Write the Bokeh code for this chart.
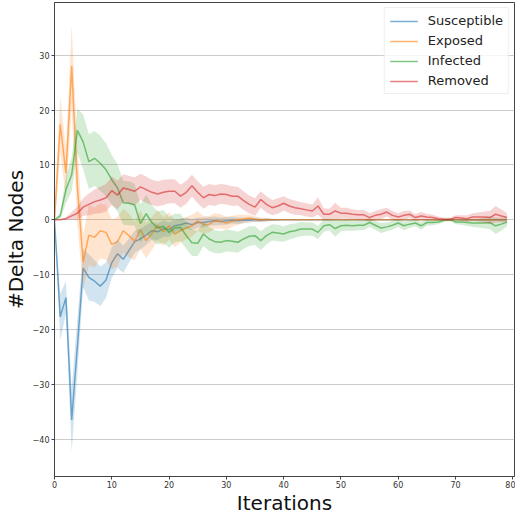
from bokeh.plotting import figure
from bokeh.models import ColumnDataSource, Range1d, Legend, LegendItem, FixedTicker
from bokeh.embed import file_html
from bokeh.resources import INLINE

iterations = list(range(80))

susceptible = [0, -17.7, -14.2, -36.5, -23.0, -8.8, -10.5, -11.2, -12.1, -11.0,
               -7.8, -6.2, -7.2, -5.6, -4.0, -3.5, -2.8, -2.0, -2.2, -1.6,
               -1.8, -1.1, -0.9, -0.6, -0.9, -0.5, -0.5, -0.3, -0.2, -0.3,
               -0.2, -0.1, -0.2, -0.1, -0.1, 0, -0.1, 0, 0, 0,
               0, 0, 0, 0, 0, 0, 0, 0, 0, 0,
               0, 0, 0, 0, 0, 0, 0, 0, 0, 0,
               0, 0, 0, 0, 0, 0, 0, 0, 0, 0,
               0, 0, 0, 0, 0, 0, 0, 0, 0, 0]
susceptible_err = [0, 4.2, 3.0, 5.8, 5.0, 3.5, 4.2, 3.8, 3.6, 3.2,
                   2.8, 2.6, 2.5, 2.2, 2.0, 1.9, 1.8, 1.6, 1.5, 1.5,
                   1.3, 1.2, 1.1, 1.0, 1.0, 0.9, 0.9, 0.8, 0.8, 0.7,
                   0.7, 0.6, 0.6, 0.5, 0.4, 0.4, 0.3, 0.3, 0.2, 0.2,
                   0, 0, 0, 0, 0, 0, 0, 0, 0, 0,
                   0, 0, 0, 0, 0, 0, 0, 0, 0, 0,
                   0, 0, 0, 0, 0, 0, 0, 0, 0, 0,
                   0, 0, 0, 0, 0, 0, 0, 0, 0, 0]

exposed = [0, 17.4, 8.5, 28.0, 6.0, -7.7, -2.8, -3.2, -2.0, -2.3,
           -4.5, -4.0, -2.0, -2.9, -3.9, -1.8, -3.8, -2.5, -1.0, -2.2,
           -1.1, -2.6, -2.0, -1.5, -1.1, -0.2, -0.9, -0.8, -0.2, -0.3,
           -0.6, -0.3, 0.0, 0.1, 0.3, 0.1, 0, 0, 0, 0,
           0, 0, 0, 0, 0, 0, 0, 0, 0, 0,
           0, 0, 0, 0, 0, 0, 0, 0, 0, 0,
           0, 0, 0, 0, 0, 0, 0, 0, 0, 0,
           0, 0, 0, 0, 0, 0, 0, 0, 0, 0]
exposed_err = [2.0, 5.0, 4.5, 7.5, 7.0, 5.0, 5.5, 5.5, 5.0, 5.0,
               4.5, 4.5, 4.0, 4.0, 3.5, 3.5, 3.2, 3.0, 2.8, 2.6,
               2.5, 2.4, 2.2, 2.0, 2.0, 1.8, 1.6, 1.5, 1.4, 1.3,
               1.2, 1.0, 0.9, 0.8, 0.6, 0.5, 0.4, 0.3, 0.2, 0.1,
               0, 0, 0, 0, 0, 0, 0, 0, 0, 0,
               0, 0, 0, 0, 0, 0, 0, 0, 0, 0,
               0, 0, 0, 0, 0, 0, 0, 0, 0, 0,
               0, 0, 0, 0, 0, 0, 0, 0, 0, 0]

infected = [0, 0.7, 5.5, 8.2, 16.3, 14.2, 10.6, 11.2, 10.3, 9.1,
            7.3, 5.8, 3.1, 3.0, 2.7, -0.7, 1.1, -0.5, -1.5, -1.2,
            -2.3, -1.5, -1.4, -2.9, -4.2, -4.3, -2.6, -3.5, -4.0, -4.1,
            -3.8, -3.9, -4.1, -3.5, -3.0, -2.9, -3.8, -2.9, -2.3, -2.4,
            -2.6, -2.2, -2.0, -1.7, -1.7, -1.7, -2.3, -1.1, -0.9, -1.6,
            -1.1, -1.0, -1.1, -1.0, -1.0, -0.5, -1.0, -1.5, -1.3, -1.0,
            -0.6, -1.1, -0.8, -0.6, -1.1, -0.5, -0.5, -0.4, -0.1, 0.1,
            -0.4, -0.4, -0.5, -0.6, -0.6, -0.6, -0.5, -1.1, -0.8, -0.4]
infected_err = [0, 0.6, 2.5, 3.0, 4.0, 5.0, 5.0, 5.0, 5.0, 4.8,
                4.5, 4.3, 4.0, 4.0, 3.8, 3.5, 3.5, 3.2, 3.0, 3.0,
                2.8, 2.6, 2.5, 2.4, 2.4, 2.3, 2.2, 2.2, 2.1, 2.0,
                2.0, 2.0, 1.9, 1.8, 1.8, 1.7, 1.7, 1.6, 1.5, 1.5,
                1.4, 1.4, 1.3, 1.3, 1.2, 1.2, 1.2, 1.1, 1.0, 1.5,
                1.0, 1.0, 0.9, 0.9, 0.9, 0.8, 0.8, 0.9, 0.8, 0.8,
                0.7, 0.8, 0.7, 0.6, 0.7, 0.6, 0.5, 0.4, 0.3, 0.3,
                0.4, 0.5, 0.6, 0.7, 0.8, 1.0, 1.2, 1.5, 1.2, 0.8]

removed = [0, 0, 0.2, 0.7, 1.2, 2.3, 2.8, 3.3, 3.6, 4.0,
           5.3, 4.5, 5.8, 5.5, 5.2, 6.0, 5.5, 5.0, 4.7, 5.0,
           5.2, 5.2, 4.3, 5.0, 6.2, 5.0, 4.0, 4.6, 4.4, 4.7,
           4.6, 4.3, 4.3, 3.5, 2.8, 2.3, 3.7, 2.8, 2.2, 2.5,
           3.0, 2.5, 2.2, 2.0, 1.8, 1.6, 2.5, 1.0, 1.0, 1.6,
           1.2, 1.2, 1.0, 0.9, 0.9, 0.4, 0.8, 1.0, 1.4, 0.8,
           0.5, 0.8, 1.0, 0.4, 0.7, 0.5, 0.4, 0.2, 0.1, 0.0,
           0.4, 0.3, 0.2, 0.5, 0.5, 0.5, 0.4, 1.0, 0.7, 0.4]
removed_err = [0, 0, 0.3, 0.7, 1.2, 1.6, 2.0, 2.2, 2.4, 2.5,
               2.6, 2.6, 2.5, 2.5, 2.5, 2.4, 2.4, 2.3, 2.3, 2.3,
               2.2, 2.2, 2.1, 2.1, 2.0, 2.0, 2.0, 1.9, 1.9, 1.8,
               1.8, 1.8, 1.7, 1.7, 1.6, 1.6, 1.5, 1.5, 1.4, 1.4,
               1.3, 1.3, 1.3, 1.2, 1.2, 1.2, 1.6, 1.1, 1.0, 1.5,
               1.0, 1.0, 0.9, 0.9, 0.9, 0.8, 0.8, 0.9, 0.8, 0.8,
               0.7, 0.8, 0.7, 0.6, 0.7, 0.6, 0.5, 0.4, 0.3, 0.3,
               0.4, 0.5, 0.6, 0.7, 0.8, 1.0, 1.2, 1.5, 1.2, 0.8]

series_names = ["Susceptible", "Exposed", "Infected", "Removed"]
series_values = [susceptible, exposed, infected, removed]
series_errs = [susceptible_err, exposed_err, infected_err, removed_err]
colors = ["#1f77b4", "#ff7f0e", "#2ca02c", "#d62728"]

x_ticks = [0, 10, 20, 30, 40, 50, 60, 70, 80]
y_ticks = [-40, -30, -20, -10, 0, 10, 20, 30]

p = figure(width=515, height=517, output_backend="svg", toolbar_location=None,
           x_range=Range1d(0, 80.3), y_range=Range1d(-46.8, 39.6),
           min_border_left=30, min_border_right=1, min_border_top=2, min_border_bottom=20)

p.background_fill_color = "white"
p.outline_line_color = "#444444"
p.outline_line_width = 1

items = []
for name, vals, errs, col in zip(series_names, series_values, series_errs, colors):
    lo = [v - e for v, e in zip(vals, errs)]
    hi = [v + e for v, e in zip(vals, errs)]
    src = ColumnDataSource(dict(x=iterations, y=vals, lo=lo, hi=hi))
    p.varea(x="x", y1="lo", y2="hi", source=src, fill_color=col, fill_alpha=0.2)
    r = p.line(x="x", y="y", source=src, line_color=col, line_width=1.5, line_alpha=0.6)
    items.append(LegendItem(label=name, renderers=[r]))

legend = Legend(items=items, location="top_right")
legend.label_text_font = "DejaVu Sans"
legend.label_text_font_size = "13px"
legend.label_text_color = "#222222"
legend.glyph_width = 28
legend.glyph_height = 14
legend.label_height = 14
legend.spacing = 5
legend.label_standoff = 10
legend.padding = 5
legend.margin = 5
legend.border_line_color = "#dddddd"
legend.border_line_width = 1
legend.background_fill_alpha = 0.8
p.add_layout(legend)

p.xgrid.grid_line_color = None
p.ygrid.grid_line_color = "#cccccc"
p.ygrid.grid_line_width = 1

p.xaxis.ticker = FixedTicker(ticks=x_ticks)
p.yaxis.ticker = FixedTicker(ticks=y_ticks)
for ax in (p.xaxis, p.yaxis):
    ax.axis_line_color = "#444444"
    ax.major_tick_line_color = "#444444"
    ax.major_tick_out = 3
    ax.major_tick_in = 0
    ax.minor_tick_line_color = None
    ax.major_label_text_font = "DejaVu Sans"
    ax.major_label_text_font_size = "8px"
    ax.major_label_text_color = "#333333"
    ax.major_label_standoff = 2
    ax.axis_label_text_font = "DejaVu Sans"
    ax.axis_label_text_font_size = "20px"
    ax.axis_label_text_font_style = "normal"
    ax.axis_label_text_color = "#111111"
    ax.axis_label_standoff = 2

p.xaxis.major_label_standoff = 1
p.xaxis.axis_label_standoff = 0
p.xaxis.axis_label_text_line_height = 0.6
p.xaxis.major_label_text_line_height = 0.9

p.xaxis.axis_label = "Iterations"
p.yaxis.axis_label = "#Delta Nodes"

open("out.html", "w").write(file_html(p, INLINE))
